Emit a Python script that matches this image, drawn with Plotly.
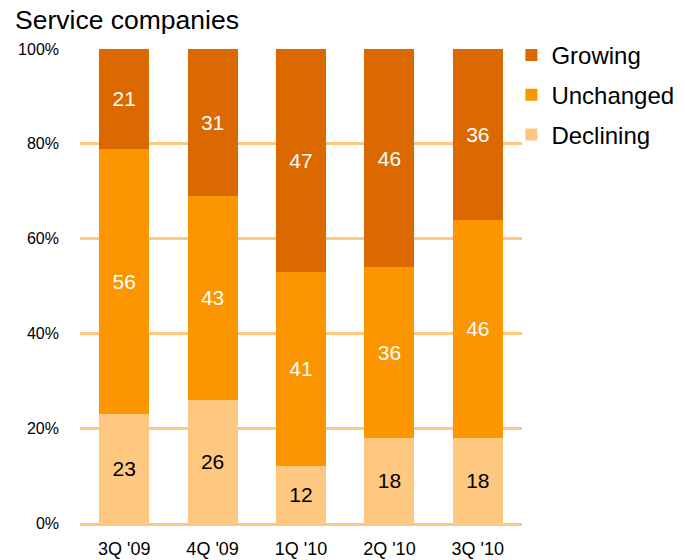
import plotly.graph_objects as go

quarters = ["3Q '09", "4Q '09", "1Q '10", "2Q '10", "3Q '10"]
declining = [23, 26, 12, 18, 18]
unchanged = [56, 43, 41, 36, 46]
growing = [21, 31, 47, 46, 36]

# name, values, fill, label colour, legend rank
series = [
    ("Declining", declining, "#FFC880", "#000000", 3),
    ("Unchanged", unchanged, "#FB9500", "#FFFFFF", 2),
    ("Growing", growing, "#DC6900", "#FFFFFF", 1),
]

fig = go.Figure()
for name, vals, color, txt, rank in series:
    fig.add_trace(go.Bar(
        x=quarters, y=vals, name=name, legendgroup=name, legendrank=rank,
        marker=dict(color=color, line=dict(width=0)),
        text=[str(v) for v in vals], textposition="inside",
        insidetextanchor="middle",
        textfont=dict(color=txt, size=21, family="Liberation Sans, Arial"),
        constraintext="none",
    ))

fig.update_layout(
    width=685, height=560,
    barmode="stack", bargap=0.435,
    margin=dict(l=80, r=163, t=49, b=37, autoexpand=False),
    plot_bgcolor="white", paper_bgcolor="white",
    font=dict(family="Liberation Sans, Arial", color="#000000"),
    title=dict(text="Service companies", x=15/685, xanchor="left",
               xref="container", yref="container", y=1 - 20/560,
               yanchor="middle", font=dict(size=26.5, color="#000000")),
    legend=dict(x=0.976, xanchor="left", y=1.034, yanchor="top",
                traceorder="grouped", tracegroupgap=5.5,
                font=dict(size=24), bgcolor="rgba(0,0,0,0)"),
    uniformtext=dict(mode=False),
)
fig.update_yaxes(range=[0, 100], tickvals=[0, 20, 40, 60, 80, 100],
                 ticktext=["0%", "20%", "40%", "60%", "80%", "100%"],
                 showgrid=True, gridcolor="#FFC880", gridwidth=2.5,
                 zeroline=False, showline=False, ticks="", automargin=False,
                 ticklabelstandoff=20, tickfont=dict(size=16))
fig.update_xaxes(showline=True, linecolor="#FFC880", linewidth=2.5,
                 ticks="", ticklabelstandoff=8, automargin=False,
                 tickfont=dict(size=18))

fig.write_html("out.html")
